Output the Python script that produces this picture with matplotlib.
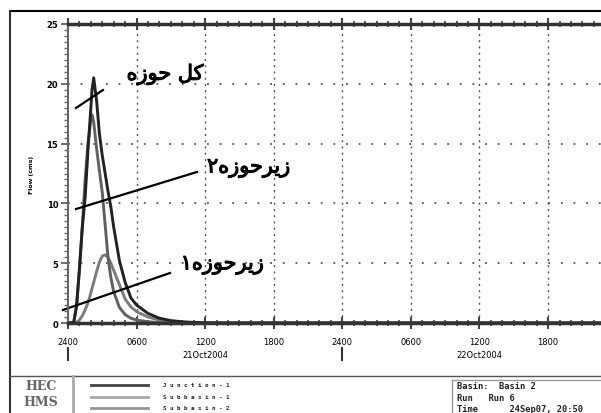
import numpy as np
import matplotlib
matplotlib.use('Agg')
import matplotlib.pyplot as plt
import matplotlib.patheffects as pe
from matplotlib.lines import Line2D

# hours after 2400 on 20Oct2004
hours = [0, 0.5, 0.75, 1, 1.25, 1.5, 1.75, 2, 2.1, 2.25, 2.5, 2.75, 3, 3.25, 3.5,
         3.75, 4, 4.5, 5, 5.5, 6, 7, 8, 9, 10, 11, 12, 13, 14, 47]
junction1 = [0, 0.05, 1.4, 4.5, 8, 10.5, 14.5, 18, 19.5, 20.5, 18.6, 15.8, 14, 12.5, 11,
             9.7, 8, 5.2, 3.4, 2.1, 1.5, 0.8, 0.4, 0.2, 0.1, 0.05, 0.02, 0, 0, 0]
subbasin1 = [0, 0.05, 1.5, 4.5, 8, 12, 15, 17, 17.4, 16.8, 14.6, 12.7, 10.9, 8.2, 5.5,
             3.8, 2.6, 1.3, 0.7, 0.4, 0.25, 0.1, 0.04, 0, 0, 0, 0, 0, 0, 0]
subbasin2 = [0, 0, 0.05, 0.25, 0.6, 1.1, 1.7, 2.5, 2.9, 3.4, 4.3, 5.1, 5.6, 5.7, 5.5,
             5.0, 4.4, 3.2, 2.0, 1.35, 0.95, 0.5, 0.25, 0.12, 0.06, 0.03, 0.01, 0, 0, 0]

series_names = ['Junction-1', 'Subbasin-1', 'Subbasin-2']
series_colors = ['#222222', '#606060', '#7c7c7c']
legend_colors = ['#444444', '#a8a8a8', '#959595']

x_ticks = [0, 6, 12, 18, 24, 30, 36, 42]
x_ticklabels = ['2400', '0600', '1200', '1800', '2400', '0600', '1200', '1800']
day_labels = ['21Oct2004', '22Oct2004']
day_pos = [12, 36]
day_marks = [0, 24]

# persian labels (presentation forms, visual order)
lbl_text = ['\uFEE9\uFEAF\uFEEE\uFEA3 \uFEDE\uFEDB',
            '\u06F2\uFEE9\uFEAF\uFEEE\uFEA3\uFEAE\uFEF3\uFEAF',
            '\u06F1\uFEE9\uFEAF\uFEEE\uFEA3\uFEAE\uFEF3\uFEAF']
lbl_pos = [(8.5, 20.8), (15.8, 13.0), (13.5, 4.9)]
lbl_line = [((0.7, 3.06), (17.98, 19.48)),
            ((0.7, 11.29), (9.53, 12.63)),
            ((-0.44, 8.92), (1.09, 4.18))]

info_lines = ['Basin:  Basin 2', 'Run   Run 6', 'Time      24Sep07, 20:50']

W, H = 601, 414
fig = plt.figure(figsize=(6.01, 4.14), dpi=100)
ax = fig.add_axes([68 / W, 1 - 324 / H, 1 - 68 / W, (324 - 25) / H])

for vals, c in zip([subbasin2, subbasin1, junction1], series_colors[::-1]):
    ax.plot(hours, vals, color=c, lw=2.1, solid_joinstyle='round')

ax.set_xlim(0, 46.63)
ax.set_ylim(0, 25)

# grid
for y in [5, 10, 15, 20]:
    ax.axhline(y, color='#555555', lw=1.3, ls=(0, (1, 6)), zorder=0)
for x in x_ticks[1:]:
    ax.axvline(x, color='#555555', lw=1.0, ls=(0, (1.5, 3)), zorder=0)

ax.set_xticks(x_ticks)
ax.set_xticklabels(x_ticklabels)
ax.set_xticks(np.arange(0, 47, 1), minor=True)
ax.set_yticks([0, 5, 10, 15, 20, 25])
ax.set_yticks(np.arange(0, 25.1, 0.5), minor=True)
ax.tick_params(axis='x', which='major', direction='inout', length=8, width=1.5,
               color='#444444', labelsize=6, pad=6, top=True)
ax.tick_params(axis='x', which='minor', direction='inout', length=4, width=1.2,
               color='#444444', top=True)
ax.tick_params(axis='y', which='major', direction='out', length=5, width=1.2,
               color='#555555', labelsize=6, pad=2)
ax.tick_params(axis='y', which='minor', direction='out', length=3, width=1,
               color='#666666')
for t in ax.get_yticklabels():
    t.set_fontweight('bold')
ax.spines['bottom'].set_linewidth(2.5)
ax.spines['bottom'].set_color('#333333')
ax.spines['top'].set_linewidth(2.5)
ax.spines['top'].set_color('#333333')
ax.spines['left'].set_linewidth(1.5)
ax.spines['left'].set_color('#666666')
ax.spines['right'].set_visible(False)
ax.set_ylabel('Flow (cms)', fontsize=4.5, fontweight='bold', labelpad=9)

for txt, (tx, ty), (lx, ly) in zip(lbl_text, lbl_pos, lbl_line):
    ax.text(tx, ty, txt, fontsize=15, family=['DejaVu Sans'],
            ha='center', va='center',
            path_effects=[pe.withStroke(linewidth=0.8, foreground='black')])
    ax.plot(lx, ly, color='black', lw=1.6, clip_on=False)

# date row
for x in day_marks:
    ax.plot([x, x], [-2.1, -3.1], color='#333333', lw=1.5, clip_on=False)
for x, s in zip(day_pos, day_labels):
    ax.text(x, -2.6, s, fontsize=6, ha='center', va='center')

# frame and footer
def fline(x0, y0, x1, y1, **kw):
    fig.add_artist(Line2D([x0 / W, x1 / W], [1 - y0 / H, 1 - y1 / H], **kw))

fline(10, 12, W, 12, color='black', lw=1.5)
fline(10, 12, 10, H, color='#333333', lw=1.5)
fline(10, 377, W, 377, color='#555555', lw=1)
fline(73, 377, 73, H, color='#aaaaaa', lw=2)
fline(452, 381, 452, H, color='#999999', lw=1)
fline(452, 381, W, 381, color='#999999', lw=1)

fig.text(41 / W, 1 - 387 / H, 'HEC', fontsize=9, fontweight='bold', family='DejaVu Serif',
         color='#666666', ha='center', va='center')
fig.text(41 / W, 1 - 403 / H, 'HMS', fontsize=9, fontweight='bold', family='DejaVu Serif',
         color='#666666', ha='center', va='center')

for i, (name, c) in enumerate(zip(series_names, legend_colors)):
    yy = [385.5, 397.5, 409][i]
    fline(91, yy, 148, yy, color=c, lw=2)
    fig.text(163 / W, 1 - yy / H, ' '.join(name), fontsize=4.2,
             family='DejaVu Sans Mono', fontweight='bold', va='center', color='#222222')

for i, s in enumerate(info_lines):
    fig.text(457 / W, 1 - [387, 399, 410][i] / H, s, fontsize=6.3, family='DejaVu Sans Mono',
             fontweight='bold', va='center', color='#222222')

fig.savefig('out.png', dpi=100)
